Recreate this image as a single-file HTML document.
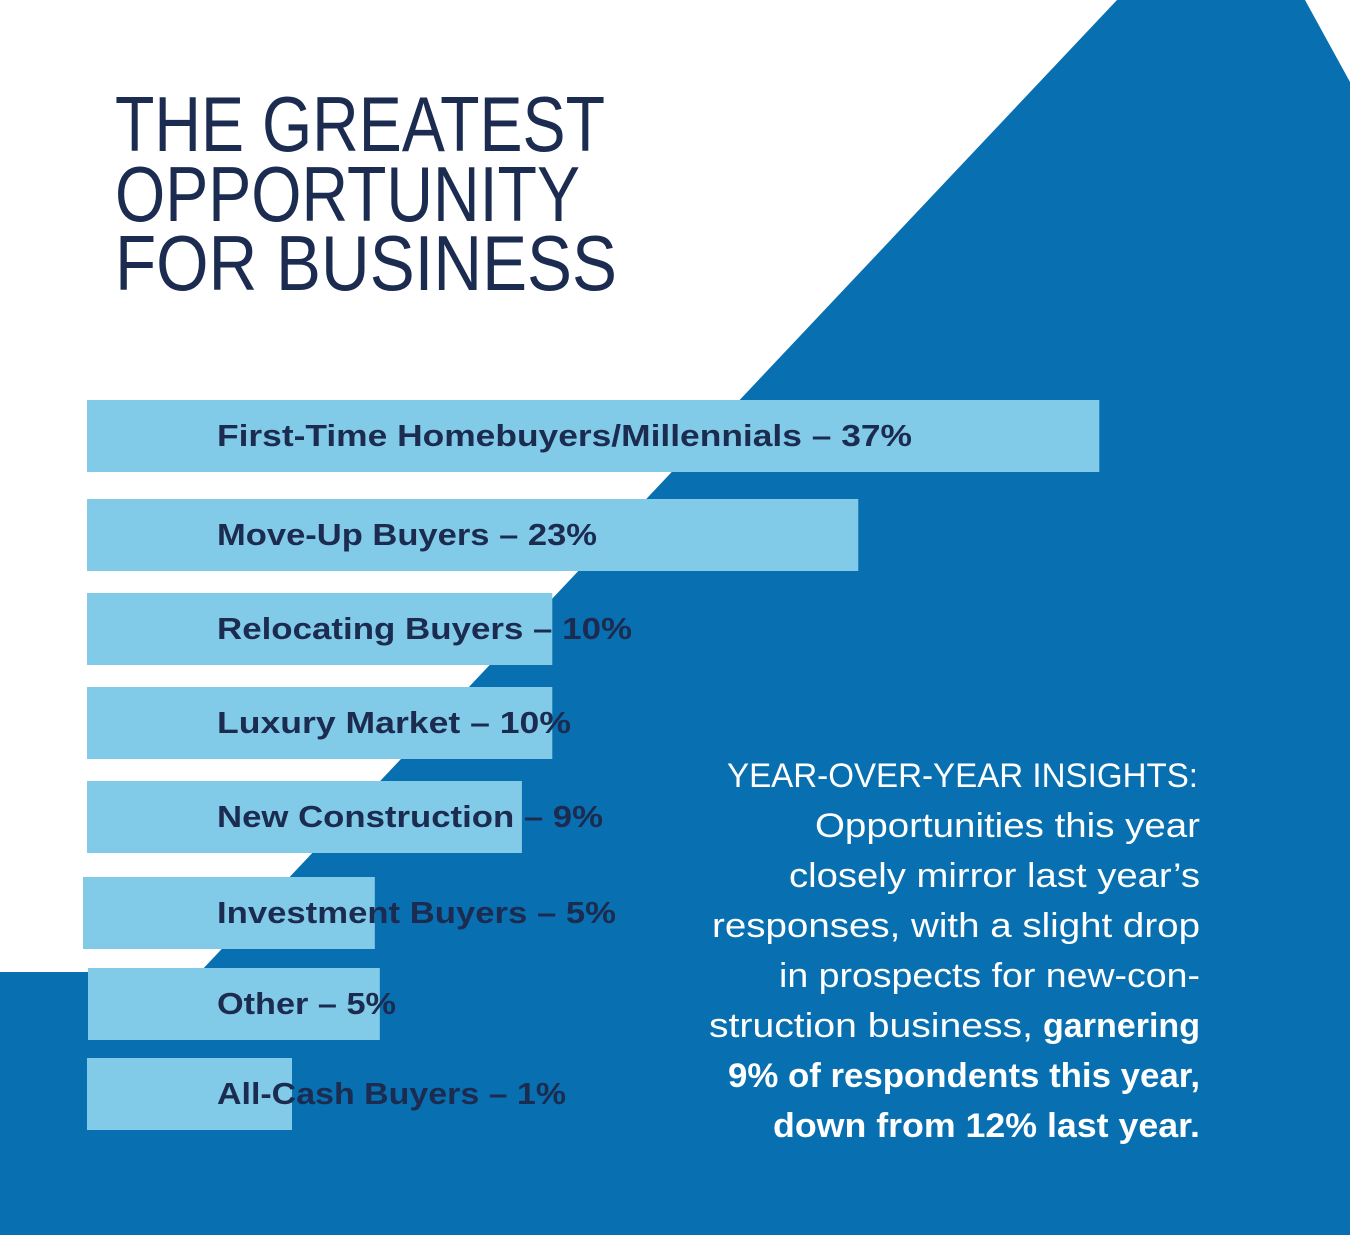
<!DOCTYPE html>
<html><head><meta charset="utf-8"><style>
html,body{margin:0;padding:0;background:#fff}
svg{display:block}
text{font-family:"Liberation Sans Narrow","Liberation Sans",sans-serif}
</style></head><body>
<svg id="chart" width="1350" height="1235" viewBox="0 0 1350 1235">
<polygon points="1117,0 1305,0 1350,82 1350,1235 0,1235 0,972 200,972" fill="#0870b0"/>
<g fill="#1c2b50" font-size="78">
<text x="115" y="151" textLength="490" lengthAdjust="spacingAndGlyphs">THE GREATEST</text>
<text x="115" y="221" textLength="465" lengthAdjust="spacingAndGlyphs">OPPORTUNITY</text>
<text x="115" y="290" textLength="502" lengthAdjust="spacingAndGlyphs">FOR BUSINESS</text>
</g>
<g id="bars"></g>
<g fill="#fff" font-size="34" text-anchor="end">
<text x="1198" y="787" textLength="471" lengthAdjust="spacingAndGlyphs">YEAR-OVER-YEAR INSIGHTS:</text>
<text x="1200" y="837" textLength="385" lengthAdjust="spacingAndGlyphs">Opportunities this year</text>
<text x="1200" y="887" textLength="411" lengthAdjust="spacingAndGlyphs">closely mirror last year’s</text>
<text x="1200" y="937" textLength="488" lengthAdjust="spacingAndGlyphs">responses, with a slight drop</text>
<text x="1200" y="987" textLength="421" lengthAdjust="spacingAndGlyphs">in prospects for new-con-</text>
<text x="1033" y="1037" textLength="324" lengthAdjust="spacingAndGlyphs">struction business,</text>
<text x="1200" y="1037" textLength="157" lengthAdjust="spacingAndGlyphs" font-weight="bold">garnering</text>
<text x="1200" y="1087" textLength="472" lengthAdjust="spacingAndGlyphs" font-weight="bold">9% of respondents this year,</text>
<text x="1200" y="1137" textLength="427" lengthAdjust="spacingAndGlyphs" font-weight="bold">down from 12% last year.</text>
</g>
</svg>
<script>
const categories = ["First-Time Homebuyers/Millennials","Move-Up Buyers","Relocating Buyers","Luxury Market","New Construction","Investment Buyers","Other","All-Cash Buyers"];
const values = [37,23,10,10,9,5,5,1];
const labelWidths = [695,380,415,354,386,399,179,349];
const NS="http://www.w3.org/2000/svg";
const g=document.getElementById('bars');
const barTops=[400,499,593,687,781,877,968,1058];
const barX=[87,87,87,87,87,83,88,87];
function xScale(v){return Math.max(205,-127+187.3*Math.sqrt(v));}
values.forEach((v,i)=>{
  const r=document.createElementNS(NS,'rect');
  
  
  r.setAttribute('x',barX[i]);
  r.setAttribute('y',barTops[i]);
  r.setAttribute('width',xScale(v));
  r.setAttribute('height',72);
  r.setAttribute('fill','#82cbe8');
  g.appendChild(r);
});
values.forEach((v,i)=>{
  const t=document.createElementNS(NS,'text');
  
  
  t.setAttribute('x',217);
  t.setAttribute('y',barTops[i]+46);
  t.setAttribute('font-size','31');
  t.setAttribute('font-weight','bold');
  t.setAttribute('fill','#1c2b50');
  t.setAttribute('textLength',labelWidths[i]);
  t.setAttribute('lengthAdjust','spacingAndGlyphs');
  t.textContent=categories[i]+' – '+v+'%';
  g.appendChild(t);
});
</script>
</body></html>
